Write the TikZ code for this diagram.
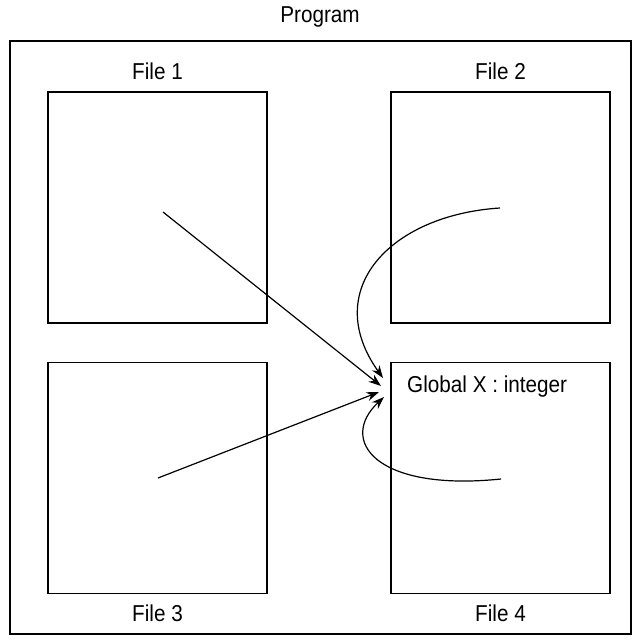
\documentclass[tikz,border=0pt]{standalone}
\usepackage{fontspec}
\setmainfont[FakeStretch=0.9]{Liberation Sans}
\usetikzlibrary{arrows.meta}
\begin{document}
\begin{tikzpicture}[x=1pt,y=-1pt,
  filebox/.style={draw, line width=1.3pt, minimum width=219pt, minimum height=231pt, inner sep=0pt},
  lbl/.style={inner sep=0pt, font=\fontsize{23}{27}\selectfont},
  arr/.style={line width=1.2pt, -{Stealth[length=12.5pt,width=9pt]}}]
\useasboundingbox (0,0) rectangle (641,644);
\node[draw, line width=1.8pt, minimum width=621pt, minimum height=593pt, inner sep=0pt] (prog) at (320.5,337.5) {};
\node[lbl] (lprog) at (320,17) {Program};
\node[filebox] (f1) at (157.5,207.5) {};
\node[filebox] (f2) at (500.5,207.5) {};
\node[filebox] (f3) at (157.5,478) {};
\node[filebox] (f4) at (500.5,478) {};
\node[lbl] (l1) at (157.5,71) {File 1};
\node[lbl] (l2) at (500.5,71) {File 2};
\node[lbl] (l3) at (157.5,613) {File 3};
\node[lbl] (l4) at (500.5,613) {File 4};
\node[lbl, anchor=base west] (g) at (407,392.5) {Global X : integer};
\coordinate (s1) at (163,212);
\coordinate (t1) at (381,386);
\coordinate (s3) at (158,478);
\coordinate (t3) at (379,392);
\coordinate (s2) at (500,208);
\coordinate (t2) at (383,378);
\coordinate (s4) at (501,479);
\coordinate (t4) at (384,397);
\draw[arr] (s1) -- (t1);
\draw[arr] (s3) -- (t3);
\draw[arr] (s2) .. controls (390,215) and (320,290) .. (t2);
\draw[arr] (s4) .. controls (375,492) and (338,440) .. (t4);
\end{tikzpicture}
\end{document}
